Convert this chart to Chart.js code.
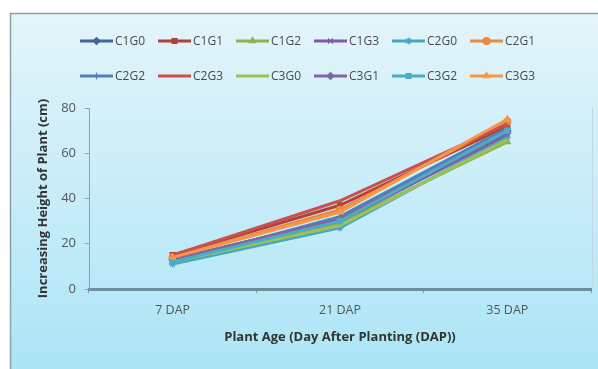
<!DOCTYPE html>
<html>
<head>
<meta charset="utf-8">
<script src="https://cdn.jsdelivr.net/npm/chart.js@4/dist/chart.umd.min.js"></script>
<style>
  html, body { margin: 0; padding: 0; background: #ffffff; }
  #wrap { width: 598px; height: 369px; position: relative; }
</style>
</head>
<body>
<div id="wrap"><canvas id="c" width="598" height="369"></canvas></div>
<script>
// Plant age categories
const categories = ['7 DAP', '21 DAP', '35 DAP'];

// Treatment series names
const seriesNames = ['C1G0', 'C1G1', 'C1G2', 'C1G3', 'C2G0', 'C2G1',
                     'C2G2', 'C2G3', 'C3G0', 'C3G1', 'C3G2', 'C3G3'];

// Increase in plant height (cm) per treatment
const C1G0 = [13, 31, 70];
const C1G1 = [15, 37, 72];
const C1G2 = [12, 29, 65];
const C1G3 = [13, 30, 68];
const C2G0 = [11, 27, 67];
const C2G1 = [14, 35, 74];
const C2G2 = [12, 32, 71];
const C2G3 = [15, 39, 73];
const C3G0 = [12, 28, 66];
const C3G1 = [13, 31, 69];
const C3G2 = [12, 30, 70];
const C3G3 = [14, 34, 75];
const seriesValues = [C1G0, C1G1, C1G2, C1G3, C2G0, C2G1, C2G2, C2G3, C3G0, C3G1, C3G2, C3G3];

// Y axis tick values
const yTicks = [0, 20, 40, 60, 80];

const colors = ['#41679c', '#b2403c', '#8db24c', '#7d5fa0', '#47a7bf', '#e98a3e',
                '#4f81bd', '#c9514d', '#9dc05b', '#8066a6', '#4bacc6', '#f79646'];
const markers = ['rectRot', 'rect', 'triangle', 'crossRot', 'star', 'circle',
                 'cross', false, false, 'rectRot', 'rect', 'triangle'];

const datasets = seriesNames.map((name, i) => ({
  label: name,
  data: seriesValues[i],
  borderColor: colors[i],
  backgroundColor: colors[i],
  borderWidth: 3,
  pointStyle: markers[i] || 'circle',
  pointRadius: markers[i] ? 3.5 : 0,
  pointBorderWidth: 1.2,
  pointBorderColor: colors[i],
  pointBackgroundColor: colors[i],
  tension: 0,
  order: seriesNames.length - i
}));

// Panel with light-blue gradient and grey border
const panelPlugin = {
  id: 'panel',
  beforeDraw(chart) {
    const ctx = chart.ctx;
    ctx.save();
    ctx.fillStyle = '#ffffff';
    ctx.fillRect(0, 0, chart.width, chart.height);
    const g = ctx.createLinearGradient(0, 13, 0, chart.height);
    g.addColorStop(0, '#e4f4fa');
    g.addColorStop(0.5, '#c8edf9');
    g.addColorStop(1, '#ace5f6');
    ctx.fillStyle = g;
    ctx.fillRect(10, 13, chart.width - 10, chart.height - 13);
    ctx.strokeStyle = '#8e9ea6';
    ctx.lineWidth = 1.5;
    ctx.strokeRect(10.5, 13.5, chart.width + 10, chart.height + 10);
    ctx.restore();
  },
  afterDatasetsDraw(chart) {
    // faint right edge of the plot area
    const a = chart.chartArea;
    const ctx = chart.ctx;
    ctx.save();
    ctx.strokeStyle = '#c3d8e0';
    ctx.lineWidth = 1;
    ctx.beginPath();
    ctx.moveTo(a.right + 1.5, a.top);
    ctx.lineTo(a.right + 1.5, a.bottom);
    ctx.stroke();
    ctx.restore();
  }
};

// Two-row legend: line + marker + label
const legendPlugin = {
  id: 'rowLegend',
  afterDraw(chart) {
    const ctx = chart.ctx;
    ctx.save();
    ctx.font = '12px "Open Sans", sans-serif';
    ctx.textBaseline = 'middle';
    ctx.textAlign = 'left';
    chart.data.datasets.forEach((ds, i) => {
      const row = Math.floor(i / 6), col = i % 6;
      const x0 = 80 + col * 78;
      const y = 41 + row * 35;
      ctx.strokeStyle = ds.borderColor;
      ctx.lineWidth = 3;
      ctx.beginPath();
      ctx.moveTo(x0, y);
      ctx.lineTo(x0 + 33, y);
      ctx.stroke();
      if (ds.pointRadius > 0) {
        ctx.fillStyle = ds.backgroundColor;
        ctx.strokeStyle = ds.borderColor;
        ctx.lineWidth = 1.2;
        Chart.helpers.drawPoint(ctx, { pointStyle: ds.pointStyle, radius: 3.5, rotation: 0, borderWidth: 1.2 }, x0 + 16.5, y);
      }
      ctx.fillStyle = '#4a4a4a';
      ctx.fillText(ds.label, x0 + 35, y + 0.5);
    });
    ctx.restore();
  }
};

new Chart(document.getElementById('c'), {
  type: 'line',
  data: { labels: categories, datasets },
  options: {
    responsive: false,
    animation: false,
    layout: { padding: { top: 108, right: 7, bottom: 0, left: 0 } },
    plugins: { legend: { display: false }, tooltip: { enabled: false } },
    scales: {
      x: {
        offset: true,
        grid: { offset: true, drawOnChartArea: false, tickLength: 4, color: '#7e98a4', lineWidth: 1 },
        border: { display: true, color: '#6f8e9b', width: 3 },
        ticks: { padding: 10, color: '#555555', font: { family: '"Open Sans", sans-serif', size: 12.5 } },
        title: {
          display: true,
          text: 'Plant Age (Day After Planting (DAP))',
          color: '#333333',
          font: { family: '"Open Sans", sans-serif', size: 13, weight: 'bold' },
          padding: { top: 0, bottom: 24 }
        },
        afterFit(scale) { scale.height = 80; }
      },
      y: {
        min: 0,
        max: 80,
        afterBuildTicks(scale) { scale.ticks = yTicks.map(v => ({ value: v })); },
        grid: { drawOnChartArea: false, tickLength: 4, color: '#8aa0aa' },
        border: { display: true, color: '#8aa0aa', width: 1 },
        ticks: { padding: 9, color: '#555555', font: { family: '"Open Sans", sans-serif', size: 13 } },
        title: {
          display: true,
          text: 'Increasing Height of Plant (cm)',
          color: '#333333',
          font: { family: '"Open Sans", sans-serif', size: 13, weight: 'bold' },
          padding: { top: 35, bottom: 0 }
        },
        afterFit(scale) { scale.width = 89; }
      }
    }
  },
  plugins: [panelPlugin, legendPlugin]
});
</script>
</body>
</html>
